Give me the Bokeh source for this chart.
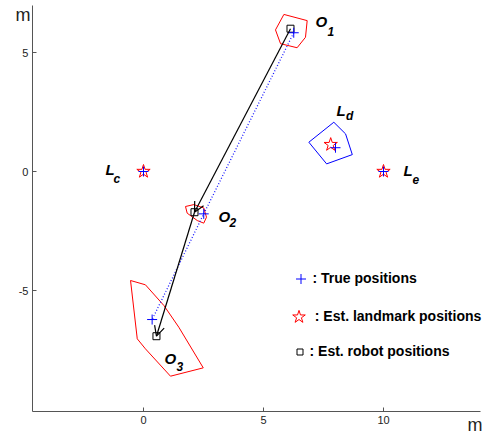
from bokeh.plotting import figure
from bokeh.models import (Range1d, FixedTicker, Label, Arrow, OpenHead,
                          ColumnDataSource, Legend, LegendItem)
from bokeh.embed import file_html
from bokeh.resources import INLINE

# ---------------- data ----------------
# true robot positions (O1, O2, O3)
true_robot_x = [6.26, 2.51, 0.36]
true_robot_y = [5.83, -1.78, -6.22]
# true landmark positions (Lc, Ld, Le)
true_lm_x = [0.0, 8.0, 10.0]
true_lm_y = [0.0, 1.0, 0.0]
# estimated landmark positions
est_lm_x = [0.0, 7.8, 10.0]
est_lm_y = [0.0, 1.13, 0.0]
# estimated robot positions
est_robot_x = [6.125, 2.125, 0.54]
est_robot_y = [6.0, -1.71, -6.92]

# uncertainty polygons
o1_x = [5.85, 6.82, 6.75, 6.40, 5.71, 5.50]
o1_y = [6.60, 6.34, 5.64, 5.20, 5.37, 5.95]
o2_x = [1.75, 2.10, 2.51, 2.625, 2.51, 2.24, 1.82]
o2_y = [-1.47, -1.39, -1.53, -1.92, -2.17, -2.06, -1.75]
o3_x = [-0.54, 0.08, 0.85, 1.47, 2.49, 1.125, 0.08, -0.26]
o3_y = [-4.58, -4.76, -5.63, -6.54, -8.25, -8.60, -7.45, -7.03]
ld_x = [6.89, 7.93, 8.42, 8.70, 7.63]
ld_y = [1.23, 2.07, 1.58, 0.71, 0.32]

x_ticks = [0, 5, 10]
y_ticks = [-5, 0, 5]
x_axis_bounds = (-4.625, 14.04)
y_axis_bounds = (-10.08, 6.975)
legend_labels = [": True positions", ": Est. landmark positions", ": Est. robot positions"]

# name labels: main letter, subscript
name_main = ["O", "O", "O", "L", "L", "L"]
name_sub = ["1", "2", "3", "c", "d", "e"]
# label placement (x_main, y_main, x_sub, y_sub) in data units
name_pos = [(7.17, 6.30, 7.67, 5.88),
            (3.125, -1.89, 3.58, -2.16),
            (0.875, -7.84, 1.375, -8.19),
            (-1.58, 0.08, -1.25, -0.32),
            (8.04, 2.56, 8.44, 2.35),
            (10.83, 0.04, 11.21, -0.32)]

FONT = "Liberation Sans"

# ---------------- figure ----------------
W, H = 494, 434
# whole canvas is the frame; axes are drawn at fixed locations inside it
p = figure(width=W, height=H, output_backend="svg", toolbar_location=None,
           x_range=Range1d(-5.958, 14.625), y_range=Range1d(-11.05, 7.185),
           min_border=0, min_border_left=0, min_border_right=0,
           min_border_top=0, min_border_bottom=0)
p.outline_line_color = None
p.grid.visible = False
p.background_fill_color = "white"

for ax, ticks, loc, bnds in ((p.xaxis, x_ticks, y_axis_bounds[0], x_axis_bounds),
                             (p.yaxis, y_ticks, x_axis_bounds[0], y_axis_bounds)):
    ax.fixed_location = loc
    ax.bounds = bnds
    ax.ticker = FixedTicker(ticks=ticks)
    ax.major_label_overrides = {t: str(t) for t in ticks}
    ax.axis_line_color = "#555555"
    ax.major_tick_line_color = "#555555"
    ax.major_tick_in = 4
    ax.major_tick_out = 0
    ax.minor_tick_line_color = None
    ax.major_label_text_font = FONT
    ax.major_label_text_font_size = "11px"
    ax.major_label_text_color = "#222222"
p.xaxis.major_label_standoff = 5
p.yaxis.major_label_standoff = 4

# polygons
for xs, ys in ((o1_x, o1_y), (o2_x, o2_y), (o3_x, o3_y)):
    p.patch(xs, ys, fill_color=None, line_color="#ff0000", line_width=1)
p.patch(ld_x, ld_y, fill_color=None, line_color="#0000ff", line_width=1)

# true trajectory (dotted)
p.line(true_robot_x, true_robot_y, line_color="#1a1aff", line_width=1.3,
       line_dash="1 2")

# estimated trajectory arrows
arr_src = ColumnDataSource(dict(x0=est_robot_x[:-1], y0=est_robot_y[:-1],
                                x1=est_robot_x[1:], y1=est_robot_y[1:]))
p.add_layout(Arrow(end=OpenHead(size=10, line_width=1.2, line_color="black"),
                   source=arr_src, x_start="x0", y_start="y0", x_end="x1", y_end="y1",
                   line_color="black", line_width=1.2))

# markers
r_star = p.scatter(est_lm_x, est_lm_y, marker="star", size=14, fill_color=None,
                   line_color="#ff0000", line_width=1)
r_sq = p.scatter(est_robot_x, est_robot_y, marker="square", size=7, fill_color=None,
                 line_color="black", line_width=1)
r_plus = p.scatter(true_robot_x + true_lm_x, true_robot_y + true_lm_y, marker="cross",
                   size=10, line_color="#0000ff", line_width=1)

# name labels
for m, s, (xm, ym, xs_, ys_) in zip(name_main, name_sub, name_pos):
    p.add_layout(Label(x=xm, y=ym, text=m, text_font=FONT, text_font_style="bold italic",
                       text_font_size="15px", text_baseline="middle", text_color="black"))
    p.add_layout(Label(x=xs_, y=ys_, text=s, text_font=FONT, text_font_style="bold italic",
                       text_font_size="12px", text_baseline="middle", text_color="black"))

# axis unit labels
p.add_layout(Label(x=-5.333, y=6.555, text="m", text_font=FONT, text_font_size="18px",
                   text_baseline="alphabetic", text_color="#222222"))
p.add_layout(Label(x=13.5, y=-10.67, text="m", text_font=FONT, text_font_size="18px",
                   text_baseline="alphabetic", text_color="#222222"))

# legends: (renderer, label, glyph width, centre x page, centre y page, standoff)
leg_specs = [(r_plus, legend_labels[0], 25, 300, 278, -3),
             (r_star, legend_labels[1], 33, 298.3, 316, -8),
             (r_sq, legend_labels[2], 15, 299, 351, 3)]
GH = 33
for rend, lab, gw, cx, cy, so in leg_specs:
    vx = cx - gw / 2
    vy = H - cy - GH / 2
    lg = Legend(items=[LegendItem(label=lab, renderers=[rend])],
                location=(vx, vy), glyph_width=gw, glyph_height=GH, label_height=GH,
                label_standoff=so, padding=0, margin=0, border_line_color=None,
                background_fill_alpha=0, label_text_font=FONT,
                label_text_font_style="bold", label_text_font_size="14px",
                label_text_color="black")
    p.add_layout(lg)

open("out.html", "w").write(file_html(p, INLINE))
